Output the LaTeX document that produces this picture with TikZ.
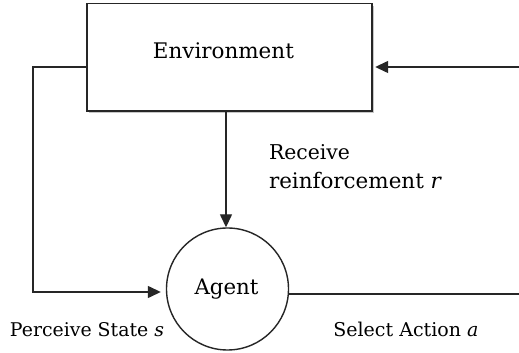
\documentclass[tikz,border=0pt]{standalone}
\usepackage{fontspec}
\setmainfont{DejaVu Serif}
\usetikzlibrary{arrows.meta,shadows}
\newcommand{\fitw}[2]{\resizebox{#1}{!}{#2}}
\definecolor{ink}{HTML}{262626}
\begin{document}
\begin{tikzpicture}[x=1pt,y=1pt,
  line width=1.4pt, draw=ink,
  envbox/.style={draw=ink, fill=white, rectangle, inner sep=0pt,
    minimum width=285pt, minimum height=107.5pt,
    drop shadow={shadow xshift=1.5pt, shadow yshift=-2.5pt, fill=black, opacity=0.22}},
  agentbox/.style={draw=ink, fill=white, circle, inner sep=0pt, minimum size=122pt},
  lbl/.style={inner sep=0pt, text=black},
  arr/.style={draw=ink, -{Triangle[length=13pt,width=12pt]}}]
\useasboundingbox (0,0) rectangle (519,353);
\fill[white] (0,0) rectangle (519,353);

\node[envbox] (env) at (229.5,295.75) {};
\node[agentbox] (agent) at (227.5,64) {};

\node[lbl, anchor=base] (envlabel) at (223.4,294) {\fitw{141pt}{Environment}};
\node[lbl, anchor=base] (agentlabel) at (226.5,58.5) {\fitw{64pt}{Agent}};
\node[lbl, anchor=base west] (recv1) at (268.3,193) {\fitw{81pt}{Receive}};
\node[lbl, anchor=base west] (recv2) at (268.3,164) {\fitw{173pt}{reinforcement \textit{r}}};
\node[lbl, anchor=base west] (perc) at (9.3,16) {\fitw{154pt}{Perceive State \textit{s}}};
\node[lbl, anchor=base west] (sel) at (332.7,16) {\fitw{145pt}{Select Action \textit{a}}};

\coordinate (rin) at (519,286);
\coordinate (lc) at (33,286);
\coordinate (lb) at (33,61);
\coordinate (rout) at (519,59);
\coordinate (vx) at (226,0);

\draw[arr, shorten >=2.5pt] (rin) -- (env.east |- rin);
\draw[arr, shorten >=5pt] (env.west |- lc) -- (lc) -- (lb) -- (agent.west |- lb);
\draw[arr] (env.south -| vx) -- (vx |- agent.north);
\draw (agent.east |- rout) -- (rout);
\end{tikzpicture}
\end{document}
